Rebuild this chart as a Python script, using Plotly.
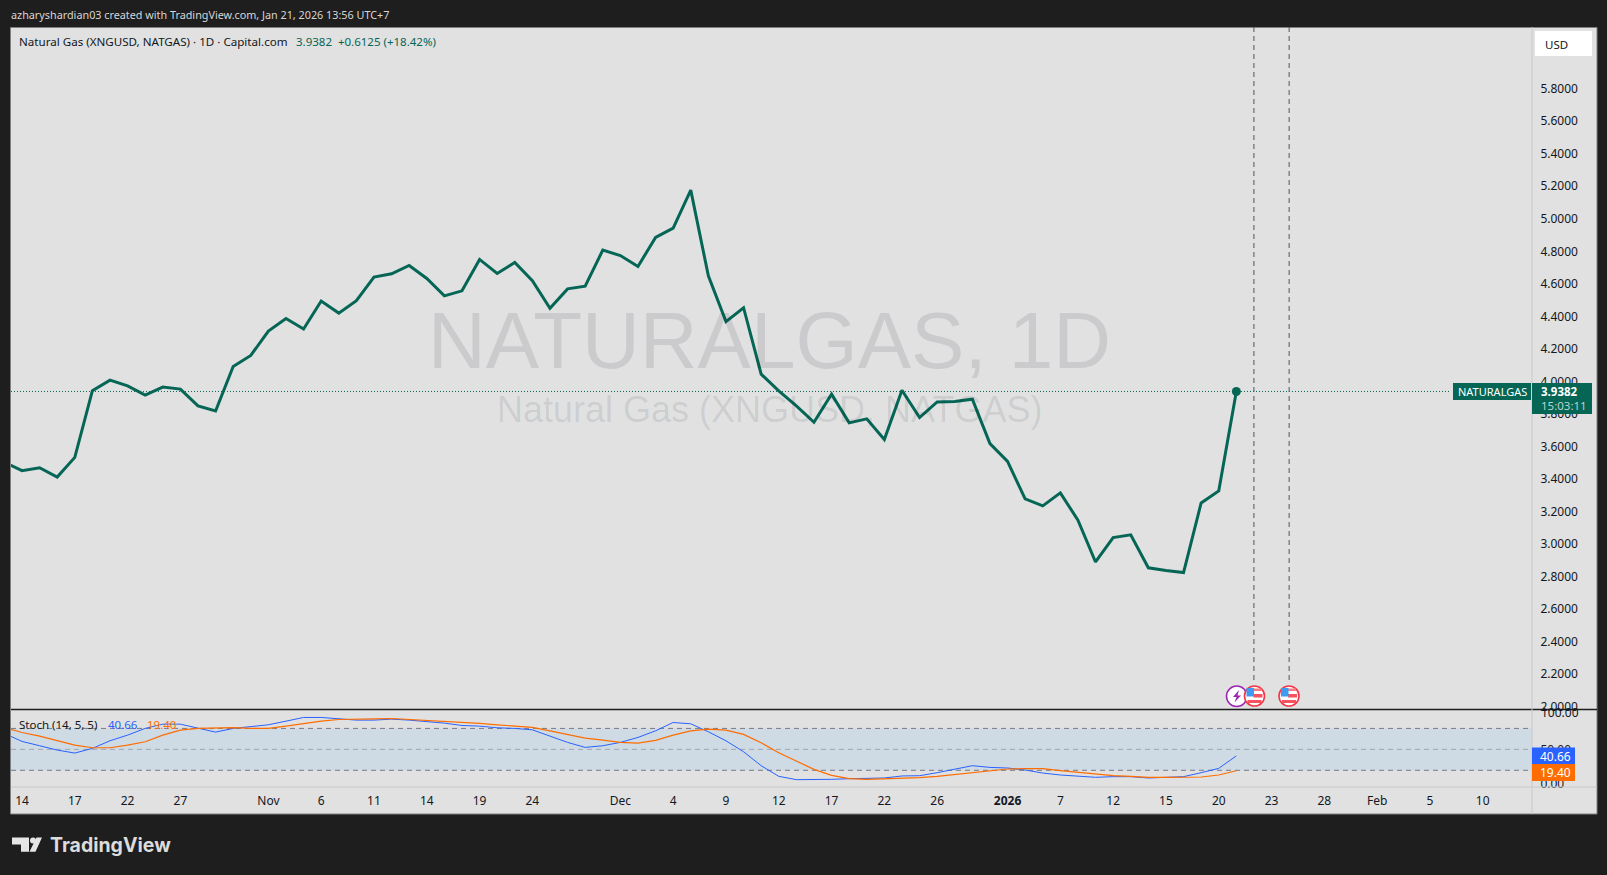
import plotly.graph_objects as go

W, H = 1607, 875

# ---- data ----
bar_index = list(range(-1, 70))
price = [3.504, 3.451, 3.469, 3.412, 3.533, 3.943, 4.008, 3.973, 3.916, 3.965, 3.953,
         3.850, 3.818, 4.092, 4.160, 4.310, 4.387, 4.322, 4.494, 4.420, 4.496, 4.642,
         4.662, 4.713, 4.633, 4.526, 4.557, 4.750, 4.664, 4.731, 4.619, 4.450, 4.569,
         4.586, 4.807, 4.774, 4.707, 4.885, 4.943, 5.176, 4.649, 4.368, 4.453, 4.045,
         3.942, 3.850, 3.749, 3.922, 3.745, 3.770, 3.643, 3.946, 3.778, 3.874, 3.876,
         3.891, 3.618, 3.508, 3.278, 3.235, 3.315, 3.147, 2.890, 3.040, 3.057, 2.854,
         2.837, 2.825, 3.253, 3.327, 3.9382]
stoch_k = [72.8, 61.4, 55.2, 49.0, 44.7, 51.4, 62.3, 70.4, 80.0, 86.1, 86.1, 80.0, 74.7,
           80.0, 82.8, 85.2, 90.4, 95.7, 95.7, 93.8, 91.9, 91.9, 93.3, 91.9, 90.0, 87.6,
           84.2, 83.3, 80.9, 80.0, 78.0, 69.5, 60.0, 52.8, 55.2, 60.0, 67.1, 76.6, 88.5,
           86.6, 75.2, 62.3, 46.6, 26.6, 11.4, 6.6, 6.6, 7.1, 8.0, 8.5, 9.0, 11.9, 12.3,
           16.6, 21.4, 26.6, 24.2, 23.3, 20.4, 16.1, 13.3, 11.9, 10.0, 10.9, 10.9, 9.0,
           10.0, 10.9, 16.6, 22.8, 40.66]
stoch_d = [81.4, 74.2, 69.0, 62.3, 56.1, 52.3, 52.3, 56.1, 60.9, 70.4, 77.6, 80.0, 81.0,
           81.0, 80.0, 80.0, 83.3, 87.1, 90.4, 92.8, 93.8, 93.8, 94.2, 92.8, 92.3, 90.9,
           89.0, 87.1, 85.2, 83.3, 81.4, 76.6, 71.0, 66.2, 63.3, 60.0, 59.0, 62.8, 70.4,
           76.6, 79.0, 77.6, 71.4, 59.5, 45.2, 32.8, 21.4, 12.8, 8.0, 7.1, 7.6, 8.5, 9.5,
           11.4, 13.8, 17.1, 19.5, 21.9, 22.3, 22.3, 19.5, 17.1, 14.2, 12.3, 11.4, 10.0,
           10.0, 10.0, 10.4, 13.3, 19.4]
time_ticks = [0, 3, 6, 9, 14, 17, 20, 23, 26, 29, 34, 37, 40, 43, 46, 49, 52, 56, 59, 62,
              65, 68, 71, 74, 77, 80, 83]
time_labels = ["14", "17", "22", "27", "Nov", "6", "11", "14", "19", "24", "Dec", "4", "9",
               "12", "17", "22", "26", "<b>2026</b>", "7", "12", "15", "20", "23", "28",
               "Feb", "5", "10"]
price_ticks = [2.0, 2.2, 2.4, 2.6, 2.8, 3.0, 3.2, 3.4, 3.6, 3.8, 4.0, 4.2, 4.4, 4.6, 4.8,
               5.0, 5.2, 5.4, 5.6, 5.8]
stoch_ticks = [0, 50]
event_bars = [70, 72]
last_price = 3.9382

GREEN = "#056656"
BLUE = "#2962ff"
ORANGE = "#ff6d00"
DARK = "#1e1e1e"
PANEL = "#e1e1e1"
INK = "#131722"
FONT = "Noto Sans"

# pane geometry in page pixels
L, AX, R, T, SEP, TAX, B = 11, 1532, 1597, 27, 709.5, 787, 814


def px(x):
    return x / W


def py(y):
    return 1 - y / H


def pshape(kind, x0, y0, x1, y1, **kw):
    return dict(type=kind, xref="paper", yref="paper", x0=px(x0), x1=px(x1),
                y0=py(y0), y1=py(y1), **kw)


def ppath(points, fill):
    d = "M " + " L ".join(f"{px(a):.5f},{py(b):.5f}" for a, b in points) + " Z"
    return dict(type="path", xref="paper", yref="paper", path=d, fillcolor=fill,
                line=dict(width=0), layer="above")


def text(x, y, s, color=INK, size=12, anchor="left", family=FONT):
    return dict(xref="paper", yref="paper", x=px(x), y=py(y), text=s, showarrow=False,
                xanchor=anchor, yanchor="middle", borderpad=0, align=anchor,
                font=dict(family=family, size=size, color=color))


fig = go.Figure()
fig.add_trace(go.Scatter(x=bar_index, y=price, mode="lines", yaxis="y",
                         line=dict(color=GREEN, width=3, simplify=False)))
fig.add_trace(go.Scatter(x=bar_index[-1:], y=price[-1:], mode="markers", yaxis="y",
                         marker=dict(color=GREEN, size=9)))
fig.add_trace(go.Scatter(x=bar_index, y=stoch_k, mode="lines", yaxis="y2",
                         line=dict(color=BLUE, width=1)))
fig.add_trace(go.Scatter(x=bar_index, y=stoch_d, mode="lines", yaxis="y2",
                         line=dict(color=ORANGE, width=1.2)))

shapes = [
    # chart background
    pshape("rect", L - 0.5, T + 0.5, R, B, fillcolor=PANEL, line=dict(color="#808080", width=1),
           layer="below"),
    # stochastic band
    dict(type="rect", xref="x", yref="y2", x0=-0.625, x1=85.8, y0=20, y1=80,
         fillcolor="#cedae4", line=dict(width=0), layer="below"),
]
for lvl, col in ((80, "#787b86"), (50, "#a3a6af"), (20, "#787b86")):
    shapes.append(dict(type="line", xref="x", yref="y2", x0=-0.625, x1=85.8, y0=lvl, y1=lvl,
                       line=dict(color=col, width=1, dash="5px,4px"), layer="below"))
# pane separators
shapes += [
    pshape("line", L, SEP, R, SEP, line=dict(color="#1e1e1e", width=1.3), layer="above"),
    pshape("line", L, TAX, R, TAX, line=dict(color="#c8c8c8", width=1), layer="above"),
    pshape("line", AX, T, AX, B, line=dict(color="#c8c8c8", width=1), layer="above"),
    # last price line
    dict(type="line", xref="x", yref="y", x0=-0.625, x1=81.2, y0=last_price, y1=last_price,
         line=dict(color=GREEN, width=1, dash="1px,2px"), layer="above"),
]
for b in event_bars:
    shapes.append(dict(type="line", xref="x", yref="paper", x0=b, x1=b, y0=py(T), y1=py(681),
                       line=dict(color="#50535e", width=1, dash="5px,4px"), layer="above"))

# price and indicator tags, USD box
shapes += [
    pshape("rect", 1535, 31, 1592, 56, fillcolor="#ffffff", line=dict(width=0), layer="above"),
    pshape("rect", 1453, 383, 1531, 400, fillcolor=GREEN, line=dict(width=0), layer="above"),
    pshape("rect", 1532, 383, 1592, 414, fillcolor=GREEN, line=dict(width=0), layer="above"),
    pshape("rect", 1532, 747.5, 1575, 764, fillcolor=BLUE, line=dict(width=0), layer="above"),
    pshape("rect", 1532, 764, 1575, 781, fillcolor=ORANGE, line=dict(width=0), layer="above"),
]

# event badges
shapes.append(pshape("circle", 1226.5, 686, 1247, 706.5, fillcolor="#ffffff",
                     line=dict(color="#9c27b0", width=1.6), layer="above"))
shapes.append(ppath([(1239, 690), (1233, 697), (1236.5, 697), (1234.5, 702.5),
                     (1241, 695.5), (1237.5, 695.5)], "#9c27b0"))
for cx in (1254.5, 1289):
    cy = 696
    shapes.append(pshape("circle", cx - 10, cy - 10, cx + 10, cy + 10, fillcolor="#ffffff",
                         line=dict(color="#f23645", width=1.6), layer="above"))
    shapes.append(pshape("rect", cx - 1, cy - 7.5, cx + 7, cy - 5, fillcolor="#f77c80",
                         line=dict(width=0), layer="above"))
    shapes.append(pshape("rect", cx - 1, cy - 2, cx + 8, cy + 1.5, fillcolor="#f7525f",
                         line=dict(width=0), layer="above"))
    shapes.append(pshape("rect", cx - 7, cy + 4, cx + 7, cy + 7, fillcolor="#f7525f",
                         line=dict(width=0), layer="above"))
    shapes.append(pshape("rect", cx - 8, cy - 8, cx - 0.5, cy + 0.5, fillcolor="#3d9bf0",
                         line=dict(width=0), layer="above"))

# TradingView logo
shapes.append(ppath([(12, 837.5), (29, 837.5), (29, 851.7), (21, 851.7), (21, 844.5), (12, 844.5)],
                    "#e6e6e6"))
shapes.append(pshape("circle", 30, 837.5, 36, 843.5, fillcolor="#e6e6e6", line=dict(width=0),
                     layer="above"))
shapes.append(ppath([(36.5, 837.5), (42, 837.5), (35.5, 851.7), (29.5, 851.7)], "#e6e6e6"))

annotations = [
    text(10, 14, "azharyshardian03 created with TradingView.com, Jan 21, 2026 13:56 UTC+7",
         color="#d6d6d6", size=10.8),
    text(17.5, 41.5, "Natural Gas (XNGUSD, NATGAS) · 1D · Capital.com", size=11.6),
    text(295, 41.5, "3.9382&nbsp;&nbsp;+0.6125 (+18.42%)", color=GREEN, size=11.5),
    text(769, 341, "NATURALGAS, 1D", color="rgba(19,23,34,0.107)", size=80, anchor="center",
         family="Liberation Sans"),
    text(769, 409, "Natural Gas (XNGUSD, NATGAS)", color="rgba(19,23,34,0.1)", size=36,
         anchor="center", family="Liberation Sans"),
    text(17.5, 724.5, "Stoch (14, 5, 5)", size=11.5),
    text(107.5, 724.5, "40.66", color=BLUE, size=11.5),
    text(145.5, 724.5, "19.40", color=ORANGE, size=11.5),
    text(1540, 712.7, "100.00", size=12),
    text(1544, 45, "USD", size=11.5),
    text(1457, 391.5, "NATURALGAS", color="#ffffff", size=11),
    text(1540, 391.5, "<b>3.9382</b>", color="#ffffff", size=11.5),
    text(1540, 405.5, "15:03:11", color="#b9d3cd", size=11.5),
    text(1539, 756, "40.66", color="#ffffff", size=12),
    text(1539, 772.5, "19.40", color="#ffffff", size=12),
    text(49, 845, "<b>TradingView</b>", color="#dcdcdc", size=19.5, family="Inter"),
]

fig.update_layout(
    width=W, height=H, autosize=False,
    margin=dict(l=0, r=0, t=0, b=0, autoexpand=False),
    paper_bgcolor=DARK, plot_bgcolor="rgba(0,0,0,0)",
    showlegend=False, hovermode=False,
    font=dict(family=FONT, size=12, color=INK),
    shapes=shapes, annotations=annotations,
    xaxis=dict(domain=[px(L), px(AX)], range=[-0.625, 85.8], anchor="y2", automargin=False,
               tickmode="array", tickvals=time_ticks, ticktext=time_labels,
               showgrid=False, zeroline=False, showline=False,
               ticks="outside", ticklen=3, tickcolor="rgba(0,0,0,0)",
               tickfont=dict(family=FONT, size=12, color=INK)),
    yaxis=dict(domain=[py(SEP), py(T)], range=[1.983, 6.179], side="right", anchor="x",
               automargin=False,
               tickmode="array", tickvals=price_ticks, tickformat=".4f",
               showgrid=False, zeroline=False, showline=False,
               ticks="outside", ticklen=5, tickcolor="rgba(0,0,0,0)",
               tickfont=dict(family=FONT, size=12, color=INK)),
    yaxis2=dict(domain=[py(TAX), py(SEP)], range=[-3.9, 107.1], side="right", anchor="x",
                automargin=False,
                tickmode="array", tickvals=stoch_ticks, tickformat=".2f",
                showgrid=False, zeroline=False, showline=False,
                ticks="outside", ticklen=5, tickcolor="rgba(0,0,0,0)",
                tickfont=dict(family=FONT, size=12, color=INK)),
)

fig.write_html(
    "out.html",
    config={"displayModeBar": False, "responsive": False},
    post_script="document.body.style.margin='0';document.body.style.background='#1e1e1e';"
                "document.documentElement.style.overflow='hidden';",
)
